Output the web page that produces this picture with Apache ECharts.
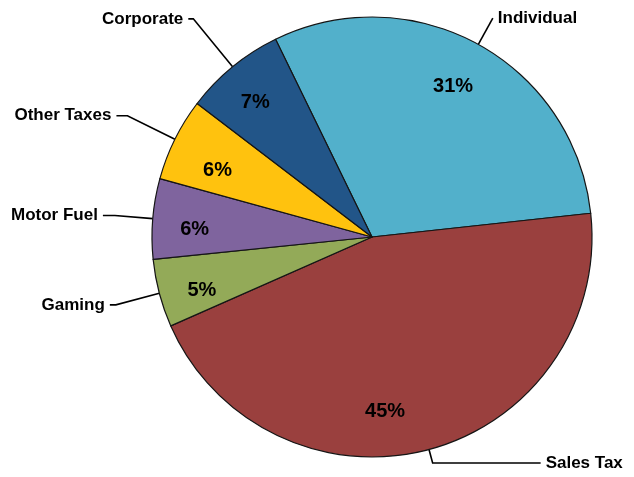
<!DOCTYPE html>
<html>
<head>
<meta charset="utf-8">
<script src="https://cdn.jsdelivr.net/npm/echarts@6/dist/echarts.min.js"></script>
<style>
html,body{margin:0;padding:0;background:#fff;}
#chart{width:634px;height:477px;}
</style>
</head>
<body>
<div id="chart"></div>
<script>
// Data (clockwise from top)
var categories = ['Individual', 'Sales Tax', 'Gaming', 'Motor Fuel', 'Other Taxes', 'Corporate'];
var shares = [30.5, 45.1, 5.0, 5.9, 6.1, 7.4];

// Styling (kept separate from data)
var colors = ['#52B0CB', '#9A403E', '#93AA58', '#7F649E', '#FFC20E', '#225588'];
var lineLen = [30, 14, 45, 38, 53, 62];
var lineLen2 = [0, 108, 6, 12, 11, 5];
var insideShift = [[-5, 5], [-33, 3], [2, 8], [0, 7], [5, 13], [-4, 3]];

var FONT = '"Liberation Sans", Arial, sans-serif';

var outerData = categories.map(function (c, i) {
  return {
    name: c,
    value: shares[i],
    itemStyle: { color: colors[i] },
    labelLine: { length: lineLen[i], length2: lineLen2[i] }
  };
});
var innerData = categories.map(function (c, i) {
  return { name: c, value: shares[i] };
});

var chart = echarts.init(document.getElementById('chart'), null, { renderer: 'canvas' });
chart.setOption({
  backgroundColor: '#ffffff',
  animation: false,
  series: [
    {
      type: 'pie',
      center: [372, 237],
      radius: 220,
      startAngle: 116,
      clockwise: true,
      avoidLabelOverlap: false,
      silent: true,
      itemStyle: { borderColor: '#151515', borderWidth: 1.2 },
      label: {
        show: true,
        position: 'outside',
        formatter: '{b}',
        color: '#000',
        fontFamily: FONT,
        fontWeight: 'bold',
        fontSize: 17,
        bleedMargin: 0
      },
      labelLine: {
        show: true,
        lineStyle: { color: '#000', width: 1.6 }
      },
      data: outerData
    },
    {
      type: 'pie',
      center: [372, 237],
      radius: [130, 220],
      startAngle: 116,
      clockwise: true,
      avoidLabelOverlap: false,
      silent: true,
      itemStyle: { color: 'rgba(0,0,0,0)', borderWidth: 0 },
      label: {
        show: true,
        position: 'inside',
        formatter: function (p) { return Math.round(p.value) + '%'; },
        color: '#000',
        fontFamily: FONT,
        fontWeight: 'bold',
        fontSize: 20
      },
      labelLine: { show: false },
      labelLayout: function (params) {
        var s = insideShift[params.dataIndex];
        return { dx: s[0], dy: s[1] };
      },
      data: innerData
    }
  ]
});
</script>
</body>
</html>
